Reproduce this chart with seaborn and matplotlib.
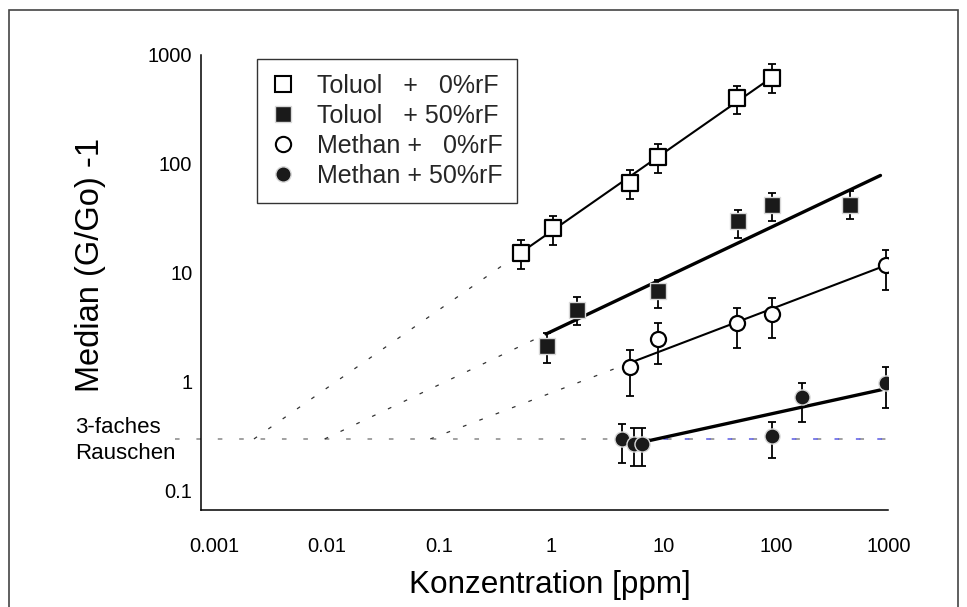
import numpy as np
import pandas as pd
import matplotlib
matplotlib.use("Agg")
import matplotlib.pyplot as plt
import seaborn as sns
from matplotlib.lines import Line2D
from matplotlib.patches import Rectangle

# ---------------- data ----------------
tol0_x = [0.54, 1.04, 5.0, 9.0, 45.0, 93.0]
tol0_y = [15.4, 25.7, 67.0, 115.0, 400.0, 620.0]
tol0_lo = [10.8, 18.1, 47.4, 82.0, 288.0, 445.0]
tol0_hi = [20.2, 33.3, 88.0, 152.0, 523.0, 821.0]

tol50_x = [0.92, 1.7, 9.0, 46.0, 92.0, 460.0]
tol50_y = [2.14, 4.6, 6.8, 30.0, 42.0, 42.0]
tol50_lo = [1.5, 3.3, 4.8, 21.0, 30.0, 31.0]
tol50_hi = [2.8, 6.0, 8.6, 38.0, 54.0, 57.0]

met0_x = [5.0, 9.0, 45.0, 92.0, 950.0]
met0_y = [1.37, 2.5, 3.5, 4.2, 11.8]
met0_lo = [0.75, 1.45, 2.05, 2.55, 7.0]
met0_hi = [1.95, 3.5, 4.8, 5.9, 16.3]

met50_x = [4.3, 5.4, 6.4, 92.0, 170.0, 950.0]
met50_y = [0.30, 0.27, 0.27, 0.32, 0.73, 0.97]
met50_lo = [0.18, 0.17, 0.17, 0.20, 0.43, 0.58]
met50_hi = [0.41, 0.38, 0.38, 0.43, 0.98, 1.37]

labels = ["Toluol   +   0%rF", "Toluol   + 50%rF",
          "Methan +   0%rF", "Methan + 50%rF"]

# regression lines (log10 y = icept + slope * log10 x)
fit_slope = [0.72, 0.489, 0.393, 0.226]
fit_icept = [1.381, 0.4625, -0.100, -0.735]
fit_x_start = [0.54, 0.9, 4.6, 6.4]
fit_x_end = [93.0, 850.0, 900.0, 880.0]
fit_extrapolate = [True, True, True, False]
fit_lw = [1.5, 2.4, 1.5, 2.4]

noise_level = 0.3
x_ticks = [0.001, 0.01, 0.1, 1, 10, 100, 1000]
x_ticklabels = ["0.001", "0.01", "0.1", "1", "10", "100", "1000"]
y_ticks = [0.1, 1, 10, 100, 1000]
y_ticklabels = ["0.1", "1", "10", "100", "1000"]

# ---------------- figure ----------------
sns.set_theme(style="white")
plt.rcParams['font.family'] = ['Liberation Sans', 'DejaVu Sans']

W, H = 967, 607
fig = plt.figure(figsize=(W / 100, H / 100), dpi=100)
ax = fig.add_axes([200.7 / W, 1 - 509.5 / H, (888.4 - 200.7) / W, (509.5 - 55) / H])
ax.set_xscale('log')
ax.set_yscale('log')
ax.set_xlim(10 ** -3.118, 1000)
ax.set_ylim(10 ** -1.17, 1000)

# noise line
ax.plot([10 ** -3.347, 1000], [noise_level, noise_level], color='#888888', lw=1.1,
        dashes=(3, 11), clip_on=False, zorder=1)
ax.plot([met50_x[2], 1000], [noise_level, noise_level], color='#5a5ae6', lw=1.1,
        dashes=(3, 11), zorder=1.5)

# fit lines + dotted extrapolation
for s, b, xs, xe, ext, lw in zip(fit_slope, fit_icept, fit_x_start, fit_x_end,
                                 fit_extrapolate, fit_lw):
    xx = np.array([xs, xe])
    yy = 10 ** (b + s * np.log10(xx))
    sns.lineplot(x=xx, y=yy, ax=ax, color='black', lw=lw, zorder=2,
                 estimator=None, sort=False)
    if ext:
        x0 = 10 ** ((np.log10(noise_level) - b) / s)
        xx2 = np.array([x0, xs])
        yy2 = 10 ** (b + s * np.log10(xx2))
        ax.plot(xx2, yy2, color='#333333', lw=0.9, dashes=(3, 11), zorder=1.5)

series = [
    (tol0_x, tol0_y, tol0_lo, tol0_hi, 's', 'white', 'black', 1.6, 118),
    (tol50_x, tol50_y, tol50_lo, tol50_hi, 's', '#1a1a1a', '#d8d8d8', 1.0, 118),
    (met0_x, met0_y, met0_lo, met0_hi, 'o', 'white', 'black', 1.6, 118),
    (met50_x, met50_y, met50_lo, met50_hi, 'o', '#1a1a1a', '#d8d8d8', 1.0, 118),
]
for xs_, ys_, lo, hi, mk, fc, ec, elw, s in series:
    xs_ = np.array(xs_); ys_ = np.array(ys_)
    yerr = [ys_ - np.array(lo), np.array(hi) - ys_]
    ax.errorbar(xs_, ys_, yerr=yerr, fmt='none', ecolor='black', elinewidth=1.3,
                capsize=3.2, capthick=1.3, zorder=3)
    df = pd.DataFrame({'x': xs_, 'y': ys_})
    sns.scatterplot(data=df, x='x', y='y', ax=ax, marker=mk, s=s, color=fc,
                    edgecolor=ec, linewidth=elw, zorder=4)

# axes styling
for sp in ['top', 'right']:
    ax.spines[sp].set_visible(False)
for sp in ['left', 'bottom']:
    ax.spines[sp].set_color('black')
    ax.spines[sp].set_linewidth(1.1)
ax.set_xticks(x_ticks)
ax.set_xticklabels(x_ticklabels)
ax.set_yticks(y_ticks)
ax.set_yticklabels(y_ticklabels)
ax.minorticks_off()
ax.tick_params(axis='both', which='major', direction='in', length=8, width=1,
               color='black', labelsize=14.5, labelcolor='black')
ax.tick_params(axis='x', pad=19.5)
ax.tick_params(axis='y', pad=6)
ax.set_xlabel('')
ax.set_ylabel('')

fig.text(550 / W, 1 - 585 / H, 'Konzentration [ppm]', ha='center', va='center',
         fontsize=22.7, color='black')
fig.text(91 / W, 1 - 265 / H, 'Median (G/Go) -1', ha='center', va='center',
         rotation=90, fontsize=23.5, color='black')
fig.text(75 / W, 1 - 440.5 / H, '3-faches\nRauschen', ha='left', va='center',
         fontsize=16, color='black', linespacing=1.32)

# legend
handles = [
    Line2D([], [], ls='none', marker='s', ms=11, mfc='white', mec='black', mew=1.5),
    Line2D([], [], ls='none', marker='s', ms=11, mfc='#1a1a1a', mec='#d8d8d8', mew=1.0),
    Line2D([], [], ls='none', marker='o', ms=11, mfc='white', mec='black', mew=1.5),
    Line2D([], [], ls='none', marker='o', ms=11, mfc='#1a1a1a', mec='#d8d8d8', mew=1.0),
]
leg = fig.legend(handles, labels, loc='upper left',
                 bbox_to_anchor=(256.7 / W, 1 - 59 / H), frameon=True,
                 fancybox=False, shadow=False, fontsize=18, borderpad=0.6,
                 handlelength=0.88, handletextpad=0.92, labelspacing=0.24,
                 borderaxespad=0)
leg.get_frame().set_edgecolor('black')
leg.get_frame().set_linewidth(1.0)

# figure frame
fig.add_artist(Rectangle((9 / W, -0.01), (958 - 9) / W, 1 - 10 / H + 0.01,
                         transform=fig.transFigure, fill=False,
                         edgecolor='#444444', lw=1.2))

fig.savefig('out.png', dpi=100)
